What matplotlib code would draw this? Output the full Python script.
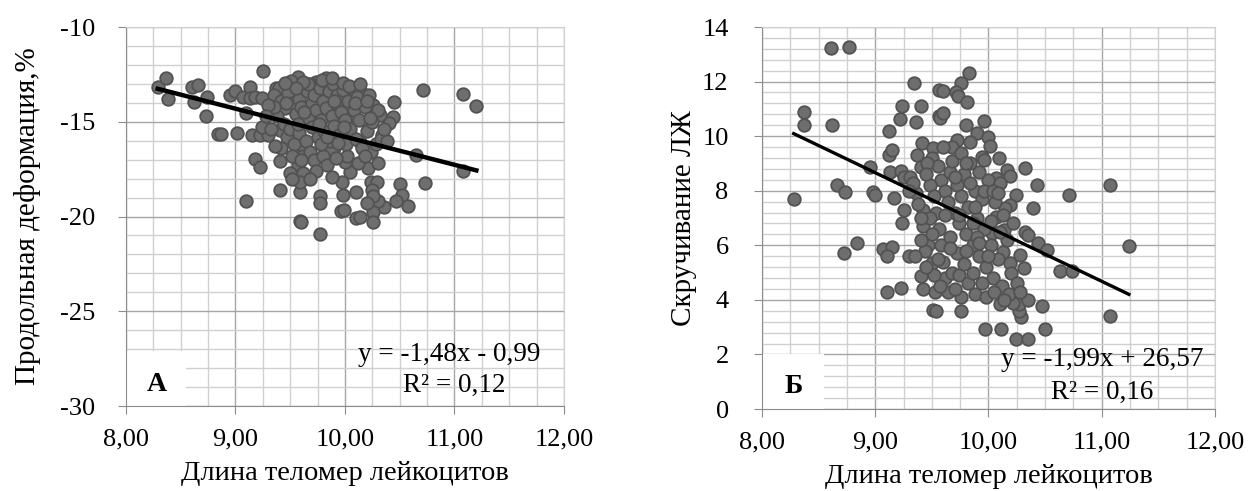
import matplotlib
matplotlib.use("Agg")
import matplotlib.pyplot as plt
from matplotlib.patches import Rectangle
from matplotlib.ticker import MultipleLocator, FuncFormatter

plt.rcParams['font.family'] = ['Liberation Serif', 'DejaVu Serif']
plt.rcParams['axes.unicode_minus'] = False

# panel A: telomere length vs longitudinal strain
a_pts = [
    (8.29, -13.15), (8.37, -12.71), (8.38, -13.82), (8.60, -13.15), (8.66, -13.06), (8.62, -13.94),
    (8.74, -13.68), (8.73, -14.70), (8.84, -15.65), (8.87, -15.65), (9.01, -15.58), (9.25, -12.31),
    (8.95, -13.59), (9.00, -13.38), (9.07, -13.68), (9.13, -13.15), (9.13, -13.76), (9.18, -13.70),
    (9.24, -13.75), (9.10, -14.55), (9.15, -15.70), (9.22, -15.70), (9.30, -15.70), (9.24, -15.26),
    (9.41, -15.44), (9.42, -16.40), (9.18, -16.97), (9.22, -17.40), (9.41, -17.07), (9.41, -18.60),
    (9.10, -19.16), (9.57, -17.28), (9.59, -18.69), (9.59, -20.22), (9.62, -17.73), (9.59, -18.16),
    (9.56, -16.30), (9.57, -16.70),
    (10.71, -13.32), (11.08, -13.55), (11.20, -14.15), (10.45, -13.94), (10.44, -14.73), (10.40, -15.08),
    (10.32, -14.64), (10.34, -15.70), (10.65, -16.75), (11.08, -17.60), (10.73, -18.25), (10.50, -18.30),
    (10.52, -18.87), (10.58, -19.43), (10.47, -19.16), (10.36, -19.48), (10.30, -19.20), (10.24, -18.16),
    (10.29, -18.16), (10.25, -18.60), (10.26, -18.90), (10.26, -19.75), (10.26, -20.27), (10.10, -20.10),
    (10.14, -20.05), (9.77, -20.90), (9.77, -18.90), (9.77, -19.30), (9.97, -18.16), (9.98, -18.87),
    (9.96, -19.70), (9.99, -19.65), (10.10, -18.73), (10.20, -19.30), (9.60, -20.27), (10.05, -17.63),
    (10.21, -17.46), (10.30, -17.20), (10.24, -16.58), (10.00, -17.10), (10.02, -16.80), (9.90, -16.40),
    (9.87, -16.50), (9.63, -16.40), (9.62, -16.80), (10.14, -16.05), (9.50, -17.70), (9.52, -18.00),
    (9.83, -12.71), (9.74, -12.89), (9.95, -13.15), (10.15, -13.41), (10.07, -13.75), (10.26, -14.10),
    (10.03, -14.70), (9.57, -12.62), (9.51, -12.87), (9.37, -13.20), (9.40, -13.20), (9.59, -13.14),
    (9.35, -13.6), (9.42, -13.9), (9.45, -14.3), (9.48, -13.5), (9.52, -14.0), (9.55, -14.6),
    (9.58, -13.8), (9.60, -14.2), (9.62, -15.0), (9.65, -13.4), (9.66, -14.8), (9.68, -13.0),
    (9.70, -14.0), (9.70, -15.3), (9.72, -13.6), (9.74, -14.4), (9.75, -15.8), (9.77, -13.2),
    (9.78, -14.9), (9.80, -13.9), (9.81, -15.5), (9.83, -14.3), (9.85, -13.4), (9.86, -16.0),
    (9.88, -14.7), (9.89, -13.0), (9.90, -15.2), (9.92, -14.0), (9.93, -13.6), (9.95, -15.7),
    (9.96, -14.5), (9.98, -13.3), (10.00, -14.9), (10.01, -16.2), (10.03, -13.9), (10.05, -15.4),
    (10.06, -13.2), (10.08, -14.4), (10.10, -15.9), (10.11, -13.7), (10.13, -14.9), (10.16, -16.4),
    (10.18, -14.2), (10.20, -15.5), (10.22, -13.6), (10.25, -15.0), (10.28, -16.2), (10.30, -14.4),
    (10.33, -15.9), (9.38, -14.7), (9.44, -15.1), (9.47, -15.8), (9.50, -15.4), (9.53, -16.2),
    (9.58, -15.6), (9.64, -16.0), (9.68, -16.6), (9.72, -17.0), (9.80, -16.8), (9.84, -17.3),
    (9.92, -16.9), (9.66, -13.0), (9.62, -12.9), (9.79, -12.8), (9.88, -12.7), (9.98, -12.95),
    (10.04, -13.1), (9.55, -13.2), (9.45, -12.95), (9.46, -14.0), (9.35, -14.2), (9.30, -14.1),
    (9.32, -15.4), (9.28, -14.7), (9.36, -16.3), (9.74, -17.6), (9.68, -18.0), (9.88, -17.9),
    (10.12, -17.2), (10.18, -16.8), (10.38, -16.0), (10.36, -15.4), (9.52, -16.8), (9.60, -17.0),
    (9.78, -16.2), (9.94, -16.1), (9.99, -15.3), (10.09, -14.0), (10.14, -13.0), (10.20, -13.9),
    (10.23, -14.8), (9.90, -13.9), (9.76, -15.1), (9.63, -14.5), (9.57, -15.1), (9.84, -15.8),
]

# panel B: telomere length vs LV twist
b_pts = [
    (8.28, 7.69), (8.37, 10.90), (8.37, 10.41), (8.61, 13.22), (8.77, 13.28), (8.62, 10.41),
    (8.66, 8.21), (8.73, 7.97), (8.72, 5.73), (8.84, 6.10), (8.98, 7.97), (9.00, 7.85),
    (9.17, 7.73), (8.95, 8.88), (9.12, 9.31), (9.15, 9.50), (9.12, 10.20), (9.22, 10.62),
    (9.36, 10.51), (9.24, 11.12), (9.40, 11.12), (9.34, 11.96), (9.13, 8.70), (9.23, 8.74),
    (9.25, 8.52), (9.31, 8.52), (9.25, 7.30), (9.42, 7.30), (9.37, 9.31), (9.40, 8.88),
    (9.41, 9.74), (9.51, 9.56), (9.56, 11.69), (9.56, 10.75), (9.07, 5.86), (9.15, 5.92),
    (9.10, 5.62), (9.30, 5.62), (9.10, 4.27), (9.23, 4.45), (9.40, 4.88), (9.42, 4.40),
    (9.53, 4.30), (9.51, 3.63), (9.24, 6.83), (9.42, 6.72), (9.47, 6.01), (9.50, 5.34),
    (9.83, 12.33), (9.76, 11.96), (9.60, 11.67), (9.71, 11.63), (9.73, 11.47), (9.81, 11.26),
    (9.57, 10.66), (9.60, 10.84), (9.80, 10.41), (9.96, 10.56), (9.90, 10.10), (10.00, 9.96),
    (10.01, 9.64), (9.84, 9.80), (9.72, 9.85), (9.68, 9.60), (10.09, 9.19), (9.94, 9.25),
    (9.96, 9.13), (10.32, 8.82), (10.16, 8.76), (10.19, 8.54), (10.07, 8.46), (10.10, 8.30),
    (10.43, 8.21), (10.71, 7.85), (11.07, 8.21), (10.24, 7.85), (10.39, 7.36), (10.19, 7.48),
    (10.15, 7.36), (10.07, 7.05), (10.13, 7.11), (10.14, 6.56), (10.03, 6.44), (10.32, 6.50),
    (10.35, 6.38), (10.44, 6.10), (10.52, 5.81),
    (10.63, 5.07), (10.74, 5.07), (10.47, 3.76), (10.50, 2.94), (10.24, 2.56), (10.35, 2.56),
    (9.97, 2.94), (10.11, 2.94), (9.76, 3.61), (9.76, 4.12), (9.54, 3.61), (10.29, 3.39),
    (10.27, 3.60), (10.27, 3.85), (10.22, 3.90), (10.35, 4.00), (10.10, 3.85), (10.31, 5.16),
    (10.19, 5.35), (10.28, 5.63), (10.13, 5.74), (11.07, 3.41), (11.24, 5.99),
    (9.50, 9.20), (9.55, 8.90), (9.58, 8.40), (9.60, 9.60), (9.62, 8.00), (9.64, 7.60),
    (9.66, 8.70), (9.68, 9.10), (9.70, 7.20), (9.72, 8.20), (9.74, 6.80), (9.76, 7.80),
    (9.78, 8.60), (9.80, 6.40), (9.82, 7.40), (9.84, 9.00), (9.86, 6.00), (9.88, 8.00),
    (9.90, 7.00), (9.92, 5.60), (9.94, 7.70), (9.96, 6.60), (9.98, 5.20), (10.00, 8.40),
    (10.02, 6.00), (10.04, 4.80), (10.06, 7.60), (10.08, 5.50), (10.12, 4.50), (10.16, 6.20),
    (10.18, 4.20), (10.20, 5.00), (10.22, 6.80), (10.25, 4.60), (10.28, 4.30), (9.48, 8.20),
    (9.52, 7.80), (9.54, 7.20), (9.56, 6.60), (9.58, 6.00), (9.60, 5.40), (9.62, 4.80),
    (9.64, 4.30), (9.66, 6.30), (9.68, 5.00), (9.70, 4.40), (9.72, 5.70), (9.74, 4.90),
    (9.78, 5.30), (9.82, 4.60), (9.86, 5.00), (9.88, 4.20), (9.90, 6.30), (9.94, 4.60),
    (9.98, 4.10), (10.00, 5.60), (10.02, 6.90), (10.05, 4.30), (10.10, 6.50), (10.14, 4.00),
    (9.46, 9.00), (9.48, 7.00), (9.50, 6.40), (9.44, 5.80), (9.45, 8.60), (9.52, 4.90),
    (9.55, 5.50), (9.57, 4.50), (9.62, 7.10), (9.66, 5.90), (9.70, 8.50), (9.76, 9.40),
    (9.80, 9.00), (9.84, 8.30), (9.88, 7.40), (9.92, 8.70), (9.96, 8.00), (10.04, 8.00),
    (10.08, 7.90), (9.74, 7.10), (9.80, 5.80), (9.86, 6.80), (9.92, 6.10), (9.36, 7.90),
    (9.38, 7.50), (9.33, 8.30), (9.30, 8.00), (9.40, 6.20), (9.35, 5.60), (9.45, 5.20),
    (9.40, 7.00),
]

xa, ya = zip(*a_pts)
xb, yb = zip(*b_pts)

# trend line coefficients as printed on the chart
fit_a = (-1.48, -0.99)
fit_b = (-1.99, 26.57)

fig = plt.figure(figsize=(12.51, 4.91), dpi=100)
axA = fig.add_axes([0.1007, 0.1731, 0.3501, 0.7719])
axB = fig.add_axes([0.6091, 0.1670, 0.3621, 0.7780])

comma = FuncFormatter(lambda v, p: f"{v:.2f}".replace('.', ','))


def setup(ax, ylim, ymaj, ymin_step, ypad):
    ax.set_xlim(8, 12)
    ax.set_ylim(*ylim)
    ax.xaxis.set_major_locator(MultipleLocator(1))
    ax.xaxis.set_minor_locator(MultipleLocator(0.25))
    ax.yaxis.set_major_locator(MultipleLocator(ymaj))
    ax.yaxis.set_minor_locator(MultipleLocator(ymin_step))
    ax.xaxis.set_major_formatter(comma)
    ax.grid(which='major', color='#a6a6a6', lw=1.0, zorder=0)
    ax.grid(which='minor', color='#d0d0d0', lw=1.0, zorder=0)
    ax.set_axisbelow(True)
    for s in ('top', 'right'):
        ax.spines[s].set_color('#d0d0d0')
    for s in ('left', 'bottom'):
        ax.spines[s].set_color('#8c8c8c')
    ax.tick_params(which='major', direction='out', length=6, color='#8c8c8c', labelsize=19)
    ax.tick_params(axis='x', pad=10)
    ax.tick_params(axis='y', pad=ypad)
    ax.tick_params(which='minor', length=0)


def panel(ax, x, y, fit, letter, eq, r2, eq_xy, r2_xy, lw):
    ax.scatter(x, y, s=82, facecolor='#6e6e6e', edgecolor='#525252', linewidths=1.3, zorder=3)
    x0, x1 = min(x), max(x)
    ax.plot([x0, x1], [fit[0] * x0 + fit[1], fit[0] * x1 + fit[1]], color='black', lw=lw, zorder=4)
    ax.add_patch(Rectangle((0.003, 0.0), 0.135, 0.145, transform=ax.transAxes,
                           facecolor='white', edgecolor='none', zorder=2))
    ax.text(0.07, 0.058, letter, transform=ax.transAxes, ha='center', va='center',
            fontsize=20, fontweight='bold', zorder=5)
    ax.text(eq_xy[0], eq_xy[1], eq, ha='center', va='center', fontsize=19.5, zorder=5)
    ax.text(r2_xy[0], r2_xy[1], r2, ha='center', va='center', fontsize=19.5, zorder=5)


setup(axA, (-30, -10), 5, 1, 16)
panel(axA, xa, ya, fit_a, 'А', 'y = -1,48x - 0,99', 'R² = 0,12', (10.95, -27.3), (11.0, -28.9), 3.2)
axA.set_xlabel('Длина теломер лейкоцитов', fontsize=20.5, labelpad=8)
axA.set_ylabel('Продольная деформация,%', fontsize=21)
axA.yaxis.set_label_coords(-0.195, 0.5)

setup(axB, (0, 14), 2, 0.4, 18)
panel(axB, xb, yb, fit_b, 'Б', 'y = -1,99x + 26,57', 'R² = 0,16', (11.0, 1.8), (11.0, 0.6), 2.4)
axB.set_xlabel('Длина теломер лейкоцитов', fontsize=20.5, labelpad=8)
axB.set_ylabel('Скручивание ЛЖ', fontsize=21)
axB.yaxis.set_label_coords(-0.143, 0.5)

fig.savefig('out.png', dpi=100)
